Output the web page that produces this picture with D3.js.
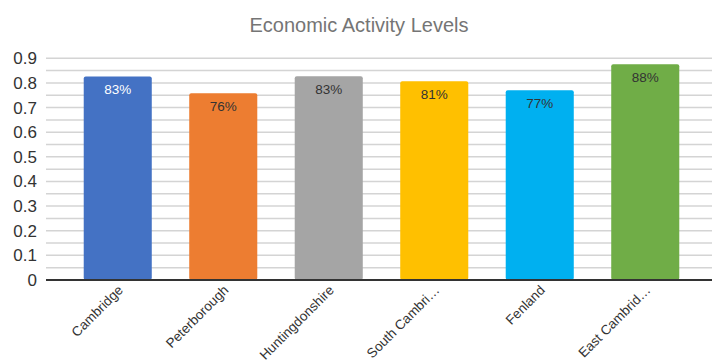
<!DOCTYPE html>
<html>
<head>
<meta charset="utf-8">
<script src="https://cdn.jsdelivr.net/npm/d3@7"></script>
<style>
	body { margin: 0; background: #fff; }
	text { font-family: "Liberation Sans", Arial, sans-serif; }
</style>
</head>
<body>
<svg id="chart"></svg>
<script>
const width = 712, height = 363;

const categories = ['Cambridge', 'Peterborough', 'Huntingdonshire', 'South Cambridgeshire', 'Fenland', 'East Cambridgeshire'];
const shortLabels = ['Cambridge', 'Peterborough', 'Huntingdonshire', 'South Cambri…', 'Fenland', 'East Cambrid…'];
const values = [0.826, 0.758, 0.827, 0.807, 0.770, 0.876];
const colors = ['#4472C4', '#ED7D31', '#A5A5A5', '#FFC000', '#00B0F0', '#70AD47'];
const labelColors = ['#ffffff', '#333333', '#333333', '#333333', '#333333', '#333333'];
const yTicks = [0, 0.1, 0.2, 0.3, 0.4, 0.5, 0.6, 0.7, 0.8, 0.9];
const minorTicks = d3.range(0, 0.9001, 0.05);

const plotLeft = 46, plotRight = 712;

const xScale = d3.scaleBand()
	.domain(categories)
	.range([65, 698])
	.paddingInner(0.355)
	.paddingOuter(0.1775);

const yScale = d3.scaleLinear()
	.domain([0, 0.9])
	.range([280, 58.3]);

const svg = d3.select('#chart')
	.attr('width', width)
	.attr('height', height);

// title
svg.append('text')
	.attr('x', 359)
	.attr('y', 32)
	.attr('text-anchor', 'middle')
	.style('font-size', '20px')
	.style('fill', '#757575')
	.text('Economic Activity Levels');

// gridlines
svg.append('g')
	.selectAll('line')
	.data(minorTicks.slice(1))
	.enter()
	.append('line')
	.attr('x1', plotLeft)
	.attr('x2', plotRight)
	.attr('y1', d => yScale(d))
	.attr('y2', d => yScale(d))
	.style('stroke', '#d4d4d4')
	.style('stroke-width', 1.5);

// y axis labels
const yAxis = d3.axisLeft(yScale)
	.tickValues(yTicks)
	.tickSize(0)
	.tickPadding(9)
	.tickFormat(d => d === 0 ? '0' : d3.format('.1f')(d));

svg.append('g')
	.attr('transform', `translate(${plotLeft},0)`)
	.call(yAxis)
	.call(g => g.select('.domain').remove())
	.call(g => g.selectAll('text')
		.style('font-size', '17px')
		.style('fill', '#333')
		.style('font-family', '"Liberation Sans", Arial, sans-serif'));

// bars
const bars = svg.append('g')
	.selectAll('g')
	.data(categories)
	.enter()
	.append('g');

bars.append('rect')
	.attr('x', d => xScale(d))
	.attr('width', xScale.bandwidth())
	.attr('y', (d, i) => yScale(values[i]))
	.attr('height', (d, i) => yScale(0) - yScale(values[i]))
	.attr('rx', 2)
	.style('fill', (d, i) => colors[i]);

bars.append('text')
	.attr('x', d => xScale(d) + xScale.bandwidth() / 2)
	.attr('y', (d, i) => yScale(values[i]) + 17.5)
	.attr('text-anchor', 'middle')
	.style('font-size', '13.5px')
	.style('fill', (d, i) => labelColors[i])
	.text((d, i) => d3.format('.0%')(values[i]));

// x axis
svg.append('line')
	.attr('x1', plotLeft)
	.attr('x2', plotRight)
	.attr('y1', yScale(0))
	.attr('y2', yScale(0))
	.style('stroke', '#333')
	.style('stroke-width', 2);

svg.append('g')
	.selectAll('text')
	.data(categories)
	.enter()
	.append('text')
	.attr('transform', (d, i) => {
		const cx = xScale(d) + xScale.bandwidth() / 2 + 6;
		return `translate(${cx},${yScale(0) + 11}) rotate(-45)`;
	})
	.attr('text-anchor', 'end')
	.style('font-size', '13.5px')
	.style('fill', '#333')
	.text((d, i) => shortLabels[i]);
</script>
</body>
</html>
